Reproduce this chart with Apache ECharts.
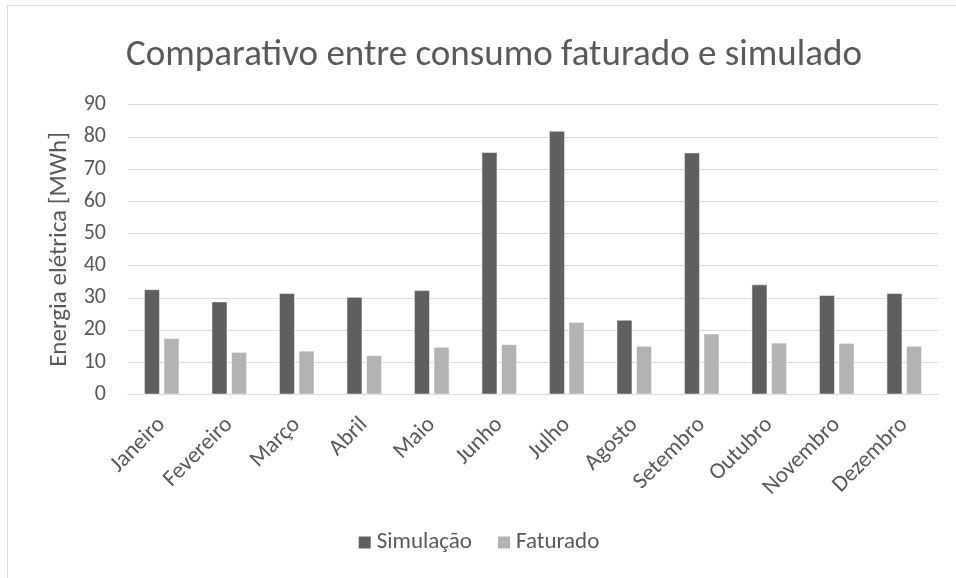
<!DOCTYPE html>
<html>
<head>
<meta charset="utf-8">
<script src="https://cdn.jsdelivr.net/npm/echarts@6/dist/echarts.min.js"></script>
<style>
  html, body { margin: 0; padding: 0; background: #fff; }
  #chart { width: 956px; height: 578px; }
</style>
</head>
<body>
<div id="chart"></div>
<script>
const meses = ["Janeiro", "Fevereiro", "Março", "Abril", "Maio", "Junho", "Julho", "Agosto", "Setembro", "Outubro", "Novembro", "Dezembro"];
const simulacao = [32.6, 28.8, 31.4, 30.2, 32.3, 75.2, 81.8, 23.1, 75.1, 34.1, 30.8, 31.4];
const faturado = [17.4, 13.1, 13.5, 12.1, 14.7, 15.5, 22.4, 15.0, 18.8, 16.0, 15.9, 15.0];
const yTicks = [0, 10, 20, 30, 40, 50, 60, 70, 80, 90];

const fonte = "Carlito, 'Open Sans', sans-serif";
const cinzaTexto = "#595959";

const chart = echarts.init(document.getElementById('chart'));
chart.setOption({
    animation: false,
    textStyle: { fontFamily: fonte, color: cinzaTexto },
    title: {
        text: "Comparativo entre consumo faturado e simulado",
        left: 489,
        top: 32,
        textAlign: 'center',
        textStyle: { fontFamily: fonte, fontSize: 37, fontWeight: 'normal', color: cinzaTexto }
    },
    graphic: [{
        type: 'rect',
        shape: { x: 7.5, y: 5.5, width: 1000, height: 1000 },
        style: { fill: 'none', stroke: '#d9d9d9', lineWidth: 1 },
        silent: true
    }],
    legend: {
        data: ["Simulação", "Faturado"],
        left: 'center',
        top: 531,
        padding: 0,
        itemWidth: 14,
        itemHeight: 14,
        itemGap: 24,
        icon: 'rect',
        textStyle: { fontFamily: fonte, fontSize: 23, color: cinzaTexto }
    },
    grid: { left: 128, right: 18, top: 104.7, bottom: 183.7, containLabel: false },
    xAxis: {
        type: 'category',
        data: meses,
        axisLine: { lineStyle: { color: '#d9d9d9' } },
        axisTick: { show: false },
        axisLabel: { rotate: 45, fontSize: 23, color: cinzaTexto, margin: 27, interval: 0 }
    },
    yAxis: {
        type: 'value',
        min: yTicks[0],
        max: yTicks[yTicks.length - 1],
        interval: 10,
        name: "Energia elétrica [MWh]",
        nameLocation: 'middle',
        nameGap: 56,
        nameTextStyle: { fontFamily: fonte, fontSize: 25, color: cinzaTexto },
        axisLine: { show: false },
        axisTick: { show: false },
        axisLabel: { fontSize: 22, color: cinzaTexto, margin: 22 },
        splitLine: { lineStyle: { color: '#d9d9d9', width: 1 } }
    },
    series: [
        {
            name: "Simulação",
            type: 'bar',
            data: simulacao,
            barGap: '26%',
            barCategoryGap: '48%',
            itemStyle: { color: '#5f5f5f', borderColor: '#ffffff', borderWidth: 0.5 }
        },
        {
            name: "Faturado",
            type: 'bar',
            data: faturado,
            itemStyle: { color: '#b3b3b3', borderColor: '#ffffff', borderWidth: 0.5 }
        }
    ]
});
</script>
</body>
</html>
